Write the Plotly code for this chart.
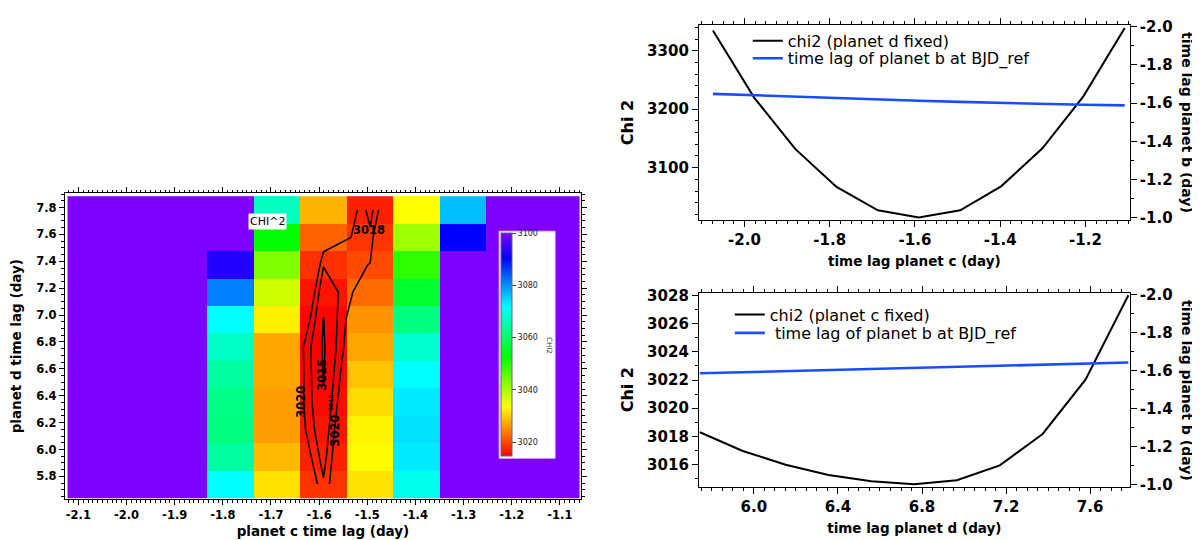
import plotly.graph_objects as go

# time lag grid of the chi2 scan (day)
c_lag = [-2.074, -1.977, -1.881, -1.784, -1.687, -1.591, -1.494, -1.398, -1.301, -1.205, -1.108]
d_lag = [5.743, 5.947, 6.151, 6.355, 6.559, 6.763, 6.966, 7.170, 7.374, 7.578, 7.782]

# chi2 on the grid, one row per planet d lag (lowest lag first), columns follow c_lag
chi2_grid = [
    [3300, 3196, 3118, 3071.5, 3031.4, 3018.30, 3031.5, 3070.0, 3158, 3252, 3360],
    [3292, 3190, 3112, 3064.4, 3028.4, 3016.97, 3033.3, 3073.0, 3155, 3248, 3355],
    [3290, 3188, 3110, 3062.0, 3026.3, 3016.00, 3032.8, 3073.8, 3151, 3243, 3351],
    [3296, 3192, 3112, 3062.5, 3026.3, 3015.27, 3031.0, 3073.0, 3146, 3237, 3347],
    [3312, 3204, 3120, 3064.4, 3027.0, 3014.83, 3029.1, 3071.5, 3140, 3230, 3343],
    [3334.5, 3219.5, 3132, 3067.0, 3027.0, 3014.62, 3027.0, 3068.0, 3133, 3222, 3339],
    [3360, 3238, 3146, 3071.5, 3032.5, 3014.90, 3025.5, 3062.0, 3125, 3213, 3333],
    [3386, 3259, 3163, 3081.0, 3037.5, 3015.95, 3022.4, 3056.0, 3117, 3203, 3326],
    [3415, 3283, 3182, 3092.9, 3043.0, 3018.18, 3020.1, 3049.0, 3108, 3190, 3317],
    [3446, 3310, 3204, 3104.0, 3052.6, 3022.02, 3018.6, 3040.7, 3090.5, 3170, 3305],
    [3480, 3338, 3228, 3116.0, 3066.8, 3028.00, 3017.0, 3033.6, 3076.3, 3150, 3290],
]

# 1D cuts through the best fit
chi2_d_fixed = chi2_grid[5]
chi2_c_fixed = [row[5] for row in chi2_grid]

# time lag of planet b at BJD_ref along each cut (day)
lag_b_vs_c = [-1.648, -1.640, -1.632, -1.625, -1.619, -1.612, -1.606, -1.600, -1.595, -1.591, -1.588]
lag_b_vs_d = [-1.586, -1.592, -1.597, -1.603, -1.609, -1.614, -1.620, -1.626, -1.631, -1.637, -1.643]

contour_levels = [3015, 3018, 3020]

# contour labels as placed in the original: text, c lag, d lag, angle, size
contour_labels = [
    ('3018', -1.497, 7.633, 0, 11.5),
    ('3015', -1.593, 6.559, -90, 11.5),
    ('3020', -1.637, 6.358, -90, 11.5),
    ('3020', -1.569, 6.141, -90, 11.5),
    ('3018', -1.576, 6.350, -90, 6),
]

# tick values
cbar_ticks = [3020, 3040, 3060, 3080, 3100]
heat_c_ticks = [-2.1, -2.0, -1.9, -1.8, -1.7, -1.6, -1.5, -1.4, -1.3, -1.2, -1.1]
heat_d_ticks = [5.8, 6.0, 6.2, 6.4, 6.6, 6.8, 7.0, 7.2, 7.4, 7.6, 7.8]
cut_c_ticks = [-2.0, -1.8, -1.6, -1.4, -1.2]
cut_d_ticks = [6.0, 6.4, 6.8, 7.2, 7.6]
chi2_top_ticks = [3100, 3200, 3300]
chi2_bot_ticks = [3016, 3018, 3020, 3022, 3024, 3026, 3028]
lag_b_ticks = [-2.0, -1.8, -1.6, -1.4, -1.2, -1.0]

rainbow = ['#ff0000', '#ff8000', '#ffff00', '#80ff00', '#00ff00',
           '#00ff80', '#00ffff', '#0080ff', '#0000ff', '#8000ff']
colorscale = [[i / (len(rainbow) - 1), c] for i, c in enumerate(rainbow)]

FONT = 'DejaVu Sans, Verdana, sans-serif'
bold = lambda s: dict(family=FONT, size=s, color='black', weight='bold')
BLUE = '#1a4dff'


def lab(vals, fmt='{:.1f}'):
    # plain hyphen minus like the original
    return [fmt.format(v) for v in vals]


fig = go.Figure()

# heatmap of chi2
fig.add_trace(go.Heatmap(
    x=c_lag, y=d_lag, z=chi2_grid,
    colorscale=colorscale, zmin=3014.6, zmax=3100,
    hoverinfo='skip',
    colorbar=dict(
        x=491.7 / 1200, xanchor='left', xpad=0,
        y=1 - 338.4 / 540, yanchor='middle', ypad=0,
        lenmode='pixels', len=223, thickness=11,
        outlinecolor='#666666', outlinewidth=1,
        tickvals=cbar_ticks, ticks='outside', ticklen=4, tickcolor='#444444',
        tickfont=dict(family=FONT, size=8, color='#222222'),
        bgcolor='rgba(0,0,0,0)',
    ),
))

# contour lines
for lev in contour_levels:
    fig.add_trace(go.Contour(
        x=c_lag, y=d_lag, z=chi2_grid,
        contours=dict(start=lev, end=lev, size=1, coloring='none', showlabels=False),
        line=dict(color='black', width=1.5, smoothing=0),
        showscale=False, showlegend=False, hoverinfo='skip',
    ))

for txt, cx, dy, ang, sz in contour_labels:
    fig.add_annotation(text=txt, x=cx, y=dy, xref='x', yref='y', textangle=ang,
                       showarrow=False, xanchor='center', yanchor='middle', font=bold(sz))

# top right: planet d fixed
fig.add_trace(go.Scatter(x=c_lag, y=chi2_d_fixed, mode='lines',
                         line=dict(color='black', width=2),
                         name='chi2 (planet d fixed)', xaxis='x2', yaxis='y2',
                         legend='legend'))
fig.add_trace(go.Scatter(x=c_lag, y=lag_b_vs_c, mode='lines',
                         line=dict(color=BLUE, width=2.6),
                         name='time lag of planet b at BJD_ref', xaxis='x2', yaxis='y3',
                         legend='legend3'))

# bottom right: planet c fixed
fig.add_trace(go.Scatter(x=d_lag, y=chi2_c_fixed, mode='lines',
                         line=dict(color='black', width=2),
                         name='chi2 (planet c fixed)', xaxis='x3', yaxis='y4',
                         legend='legend2'))
fig.add_trace(go.Scatter(x=d_lag, y=lag_b_vs_d, mode='lines',
                         line=dict(color=BLUE, width=2.6),
                         name=' time lag of planet b at BJD_ref', xaxis='x3', yaxis='y5',
                         legend='legend4'))

base = dict(showline=True, linecolor='black', linewidth=1, ticks='outside',
            tickcolor='black', showgrid=False, zeroline=False, tickmode='array')


def minor(t0, dt, ln):
    return dict(tickmode='linear', tick0=t0, dtick=dt, ticklen=ln,
                ticks='outside', tickcolor='black')


def leg(x, top):
    # one legend per entry so the row spacing can follow the original
    return dict(x=x / 1200, y=1 - top / 540, xanchor='left', yanchor='top',
                bgcolor='rgba(0,0,0,0)', font=dict(family=FONT, size=16, color='black'),
                itemwidth=30)


fig.update_layout(
    width=1200, height=540,
    margin=dict(l=0, r=0, t=0, b=0),
    paper_bgcolor='white', plot_bgcolor='white',
    font=dict(family=FONT, color='black'),
    xaxis=dict(**base, domain=[55 / 1200, 572 / 1200], anchor='y',
               range=[-2.128, -1.056], tickvals=heat_c_ticks, ticktext=lab(heat_c_ticks),
               ticklen=5, mirror='ticks', minor=minor(-2.1, 0.01, 2.5),
               tickfont=bold(11.5),
               title=dict(text='planet c time lag (day)', font=bold(13.5), standoff=5)),
    yaxis=dict(**base, domain=[1 - 497 / 540, 1 - 183 / 540], anchor='x',
               range=[5.631, 7.906], tickvals=heat_d_ticks, ticktext=lab(heat_d_ticks),
               ticklen=5, mirror='ticks', minor=minor(5.8, 0.05, 2.5),
               tickfont=bold(11.5),
               title=dict(text='planet d time lag (day)', font=bold(13.5), standoff=19)),
    xaxis2=dict(**base, domain=[690 / 1200, 1121.7 / 1200], anchor='y2',
                range=[-2.107, -1.096], tickvals=cut_c_ticks, ticktext=lab(cut_c_ticks),
                ticklen=6, mirror='ticks', minor=minor(-2.0, 0.025, 3),
                tickfont=bold(15),
                title=dict(text='time lag planet c (day)', font=bold(13.5), standoff=8)),
    yaxis2=dict(**base, domain=[1 - 210.7 / 540, 1 - 10 / 540], anchor='x2',
                range=[3010, 3344.5], tickvals=chi2_top_ticks, ticktext=lab(chi2_top_ticks, '{}'),
                ticklen=6, minor=minor(3100, 20, 3),
                tickfont=bold(15),
                title=dict(text='Chi 2', font=bold(16), standoff=9)),
    yaxis3=dict(**base, overlaying='y2', side='right', anchor='x2',
                range=[-0.988, -2.009], tickvals=lag_b_ticks, ticktext=lab(lag_b_ticks),
                ticklen=6, minor=minor(-2.0, 0.1, 3),
                tickfont=bold(15)),
    xaxis3=dict(**base, domain=[690 / 1200, 1121.7 / 1200], anchor='y4',
                range=[5.738, 7.789], tickvals=cut_d_ticks, ticktext=lab(cut_d_ticks),
                ticklen=6, mirror='ticks', minor=minor(6.0, 0.05, 3),
                tickfont=bold(15),
                title=dict(text='time lag planet d (day)', font=bold(13.5), standoff=8)),
    yaxis4=dict(**base, domain=[1 - 484.3 / 540, 1 - 285 / 540], anchor='x3',
                range=[3014.44, 3028.19], tickvals=chi2_bot_ticks, ticktext=lab(chi2_bot_ticks, '{}'),
                ticklen=6, minor=minor(3016, 1, 3),
                tickfont=bold(15),
                title=dict(text='Chi 2', font=bold(16), standoff=9)),
    yaxis5=dict(**base, overlaying='y4', side='right', anchor='x3',
                range=[-0.987, -2.012], tickvals=lag_b_ticks, ticktext=lab(lag_b_ticks),
                ticklen=6, minor=minor(-2.0, 0.1, 3),
                tickfont=bold(15)),
    legend=leg(739, 9),
    legend3=leg(739, 27),
    legend2=leg(721, 290),
    legend4=leg(721, 309),
)

# white box behind the colour bar
fig.add_shape(type='rect', xref='paper', yref='paper',
              x0=490 / 1200, x1=546 / 1200, y0=1 - 455 / 540, y1=1 - 222 / 540,
              fillcolor='white', line=dict(color='#d8c8ff', width=1), layer='above')

fig.add_annotation(text='CHI2', xref='paper', yref='paper', x=540 / 1200, y=1 - 339 / 540,
                   xanchor='center', yanchor='middle',
                   textangle=90, showarrow=False, font=dict(family=FONT, size=7, color='#333333'))
fig.add_annotation(text='CHI^2', xref='x', yref='y', x=-1.707, y=7.693, showarrow=False,
                   xanchor='center', yanchor='middle',
                   bgcolor='white', borderpad=1, font=dict(family=FONT, size=11, color='black'))

# right-hand axis titles read top to bottom
for yc in [110, 385]:
    fig.add_annotation(text='time lag planet b (day)', xref='paper', yref='paper',
                       x=1179 / 1200, y=1 - yc / 540, xanchor='center', yanchor='middle',
                       textangle=90, showarrow=False, font=bold(14))

fig.write_html('out.html')
